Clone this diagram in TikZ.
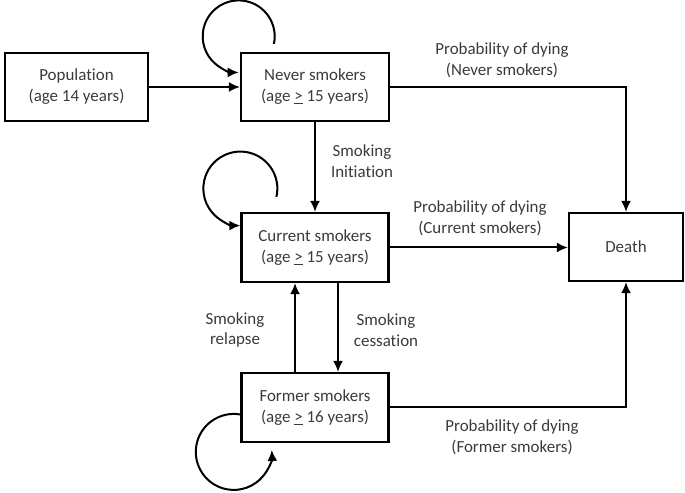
\documentclass[tikz,border=0pt]{standalone}
\usepackage{fontspec}
\setmainfont{Carlito}[Ligatures=NoCommon]
\usepackage{tikz}
\usetikzlibrary{arrows.meta,positioning,calc}
\definecolor{ink}{HTML}{3A3A3A}

\begin{document}
\begin{tikzpicture}[x=1bp,y=1bp,>={Latex[length=11bp,width=10bp]},
  font=\fontsize{17}{21}\selectfont,
  state/.style={draw,line width=2.2bp,align=center,text=ink,minimum height=68bp,inner sep=0pt},
  lbl/.style={align=center,text=ink},
  flow/.style={->,line width=2bp},
  selfloop/.style={->,line width=2bp}]
  \useasboundingbox (0,0) rectangle (685,493);
  % states
  \node[state,minimum width=143bp] (pop) at (76.5,406) {Population\\(age 14 years)};
  \node[state,minimum width=148bp] (never) at (315,406) {Never smokers\\(age \underline{>} 15 years)};
  \node[state,minimum width=147bp,minimum height=69bp] (current) at (315,245.5) {Current smokers\\(age \underline{>} 15 years)};
  \node[state,minimum width=147bp,minimum height=69bp] (former) at (315,85.5) {Former smokers\\(age \underline{>} 16 years)};
  \node[state,minimum width=114bp] (death) at (626,246) {Death};
  % transitions
  \draw[flow] (pop) -- (never);
  \draw[flow] (never) -- (current);
  \draw[flow] ([xshift=23bp]current.south) -- ([xshift=23bp]former.north);
  \draw[flow] ([xshift=-20bp]former.north) -- ([xshift=-20bp]current.south);
  \draw[flow] (never.east) -| (death.north);
  \draw[flow] (current.east) -- (current.east -| death.west);
  \draw[flow] (former.east) -| (death.south);
  % staying in the same state
  \draw[selfloop] ([xshift=34bp,yshift=8bp]never.north west) arc[start angle=-12,end angle=270,radius=36bp];
  \draw[selfloop] ([xshift=36bp,yshift=15bp]current.north west) arc[start angle=-13,end angle=270,radius=37bp];
  \draw[selfloop] ([yshift=-7bp]former.west) arc[start angle=80,end angle=363,radius=38bp];
  % labels
  \node[lbl] (pnever) at (502,433) {Probability of dying\\(Never smokers)};
  \node[lbl] (pcurrent) at (480,275) {Probability of dying\\(Current smokers)};
  \node[lbl] (pformer) at (512,55.5) {Probability of dying\\(Former smokers)};
  \node[lbl] (init) at (362,331.5) {Smoking\\Initiation};
  \node[lbl] (relapse) at (235,163) {Smoking\\relapse};
  \node[lbl] (cess) at (386,163) {Smoking\\cessation};
\end{tikzpicture}
\end{document}
